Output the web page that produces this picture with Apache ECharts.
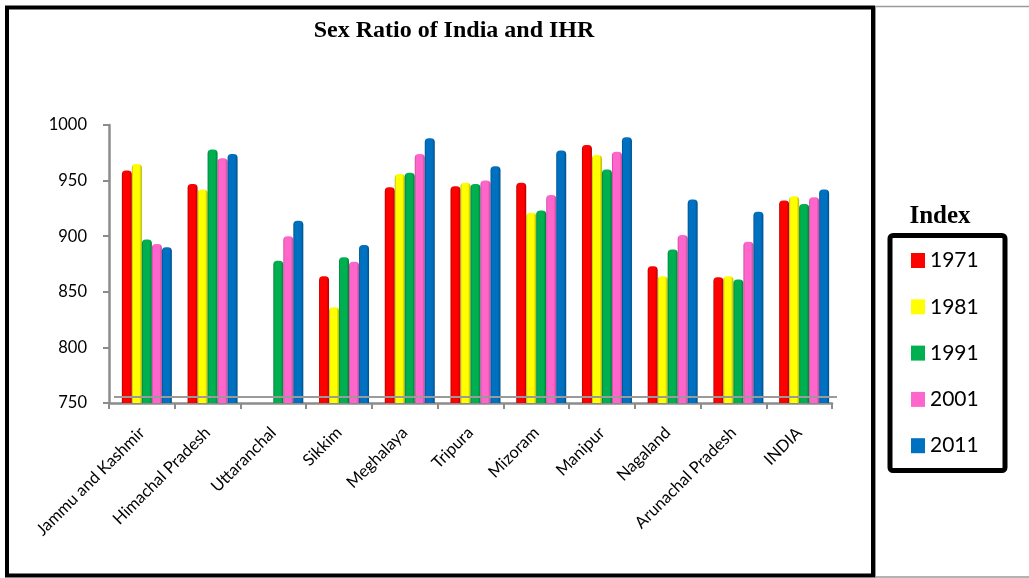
<!DOCTYPE html>
<html>
<head>
<meta charset="utf-8">
<script src="https://cdn.jsdelivr.net/npm/echarts@6/dist/echarts.min.js"></script>
<style>
  html, body { margin: 0; padding: 0; background: #ffffff; }
  #chart { width: 1029px; height: 578px; }
</style>
</head>
<body>
<div id="chart"></div>
<script>
// Sex ratio (females per 1000 males) by census year
const states = ['Jammu and Kashmir', 'Himachal Pradesh', 'Uttaranchal', 'Sikkim', 'Meghalaya',
  'Tripura', 'Mizoram', 'Manipur', 'Nagaland', 'Arunachal Pradesh', 'INDIA'];
const years = ['1971', '1981', '1991', '2001', '2011'];
const ratio1971 = [959, 947, null, 864, 944, 945, 948, 982, 873, 863, 932];
const ratio1981 = [965, 942, null, 836, 956, 948, 921, 973, 864, 864, 936];
const ratio1991 = [897, 978, 878, 881, 957, 947, 923, 960, 888, 861, 929];
const ratio2001 = [893, 970, 900, 877, 974, 950, 937, 976, 901, 895, 935];
const ratio2011 = [890, 974, 914, 892, 988, 963, 977, 989, 933, 922, 942];
const yMin = 750, yMax = 1000, yStep = 50;

const seriesValues = [ratio1971, ratio1981, ratio1991, ratio2001, ratio2011];
const baseColors = ['#FF0000', '#FFFF00', '#00B050', '#FF66CC', '#0070C0'];
const edgeColors = ['#B00000', '#B5B500', '#007A38', '#C2479A', '#004E88'];

// horizontal shading so each bar reads as a cylinder
function cylinder(i) {
  return new echarts.graphic.LinearGradient(0, 0, 1, 0, [
    { offset: 0, color: edgeColors[i] },
    { offset: 0.15, color: baseColors[i] },
    { offset: 0.75, color: baseColors[i] },
    { offset: 1, color: edgeColors[i] }
  ]);
}

const chart = echarts.init(document.getElementById('chart'), null, { renderer: 'canvas' });
const axisGrey = '#8C8C8C';
const font = 'Lato, "Open Sans", sans-serif';

const series = years.map((y, i) => ({
  name: y,
  type: 'bar',
  xAxisIndex: 1,
  yAxisIndex: 1,
  data: seriesValues[i],
  barWidth: 10,
  barGap: '0%',
  itemStyle: { color: cylinder(i), borderRadius: [4, 4, 0, 0] },
  emphasis: { disabled: true },
  markLine: i === 0 ? {
    silent: true,
    symbol: ['none', 'none'],
    label: { show: false },
    lineStyle: { color: '#9A9A9A', width: 2, type: 'solid' },
    data: [{ yAxis: 755.5 }]
  } : undefined,
  z: 3
}));

chart.setOption({
  backgroundColor: '#ffffff',
  animation: false,
  title: [{
    text: 'Sex Ratio of India and IHR',
    left: 454, top: 19, textAlign: 'center', padding: 0,
    textStyle: { fontFamily: '"Liberation Serif", serif', fontWeight: 'bold', fontSize: 24, color: '#000' }
  }, {
    text: 'Index',
    left: 940, top: 204, textAlign: 'center', padding: 0,
    textStyle: { fontFamily: '"Liberation Serif", serif', fontWeight: 'bold', fontSize: 25, color: '#000' }
  }],
  legend: {
    orient: 'vertical',
    left: 911, top: 250, padding: 0,
    itemWidth: 14, itemHeight: 15, itemGap: 25.3,
    icon: 'rect',
    data: years.map((y, i) => ({ name: y, itemStyle: { color: baseColors[i] } })),
    textStyle: { fontFamily: font, fontSize: 21, color: '#000' },
    selectedMode: false
  },
  grid: [
    { left: 109, right: 197, top: 125, bottom: 175, containLabel: false },
    { left: 114, right: 192, top: 125, bottom: 175, containLabel: false }
  ],
  xAxis: [{
    type: 'category', gridIndex: 0, data: states, boundaryGap: true,
    axisLine: { lineStyle: { color: axisGrey, width: 2.5 } },
    axisTick: { show: true, alignWithLabel: false, length: 6, lineStyle: { color: axisGrey, width: 2 } },
    axisLabel: { rotate: 45, interval: 0, margin: 27, fontFamily: font, fontSize: 16.5, color: '#000' },
    splitLine: { show: false }
  }, {
    type: 'category', gridIndex: 1, data: states, boundaryGap: true, show: false
  }],
  yAxis: [{
    type: 'value', gridIndex: 0, min: yMin, max: yMax, interval: yStep,
    axisLine: { show: true, lineStyle: { color: axisGrey, width: 2.5 } },
    axisTick: { show: true, length: 6, lineStyle: { color: axisGrey, width: 2 } },
    axisLabel: { margin: 22, fontFamily: font, fontSize: 16.5, color: '#000', formatter: v => String(v) },
    splitLine: { show: false }
  }, {
    type: 'value', gridIndex: 1, min: yMin, max: yMax, interval: yStep, show: false,
    splitLine: { show: false }
  }],
  series: series,
  graphic: [
    // outer chart frame
    { type: 'rect', shape: { x: 7, y: 7.5, width: 866, height: 568, r: 0 },
      style: { fill: 'none', stroke: '#000', lineWidth: 4 }, z: 10, silent: true },
    // right panel edges
    { type: 'line', shape: { x1: 875, y1: 6.5, x2: 1029, y2: 6.5 },
      style: { stroke: '#9A9A9A', lineWidth: 1.5 }, silent: true },
    { type: 'line', shape: { x1: 875, y1: 577, x2: 1029, y2: 577 },
      style: { stroke: '#9A9A9A', lineWidth: 1.5 }, silent: true },
    { type: 'line', shape: { x1: 875.5, y1: 6, x2: 875.5, y2: 578 },
      style: { stroke: '#9A9A9A', lineWidth: 1 }, silent: true },
    // legend box
    { type: 'rect', shape: { x: 890, y: 235.5, width: 115, height: 235, r: 3 },
      style: { fill: 'none', stroke: '#000', lineWidth: 5 }, silent: true }
  ]
});
</script>
</body>
</html>
